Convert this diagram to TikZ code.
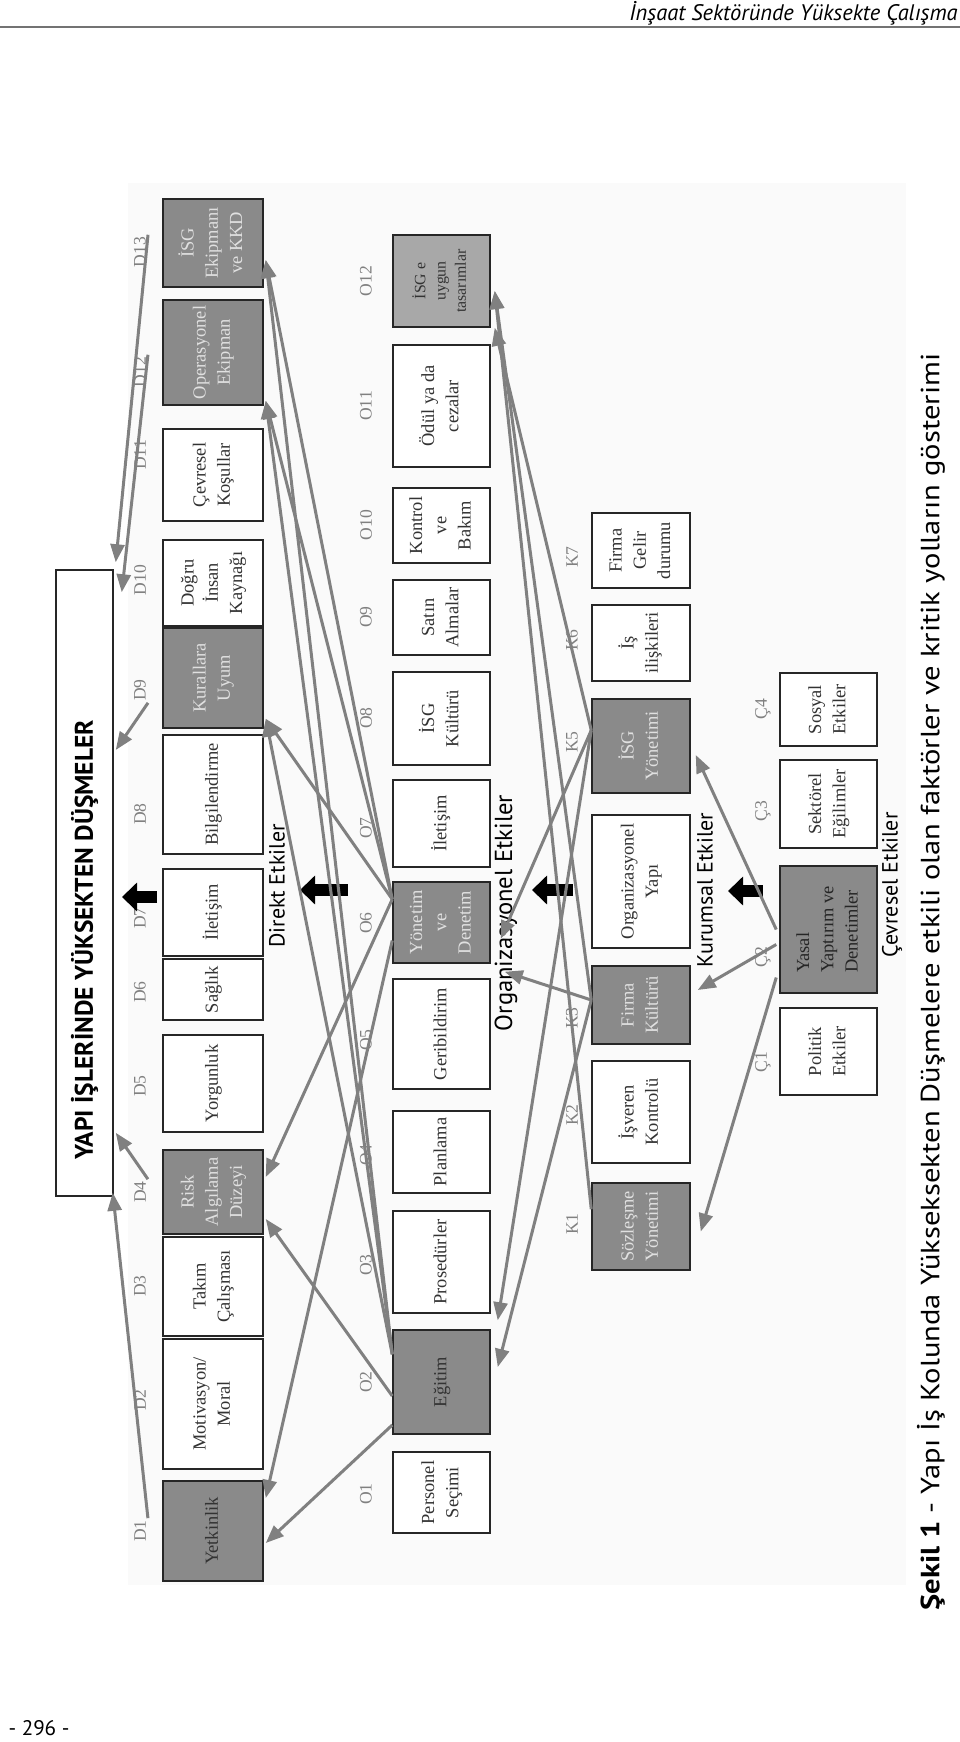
\documentclass[tikz,border=0pt]{standalone}
\usepackage{fontspec}
\setmainfont{Liberation Serif}
\newfontfamily\sansfont{PT Sans}
\usepackage{graphicx}
\usetikzlibrary{calc,arrows.meta}
\definecolor{boxgray}{RGB}{138,138,138}
\definecolor{palegray}{RGB}{168,168,168}
\definecolor{linegray}{RGB}{128,128,128}
\newcommand\rt[1]{\rotatebox{90}{\begin{tabular}{@{}c@{}}#1\end{tabular}}}
\newcommand\rl[1]{\rotatebox{90}{\begin{tabular}{@{}l@{}}#1\end{tabular}}}
\renewcommand\arraystretch{1.15}

\begin{document}
\begin{tikzpicture}[x=0.2mm,y=-0.2mm,
  box/.style={draw=black!85, line width=0.3mm, fill=white, inner sep=0pt, text=black!80, font=\fontsize{10.5}{12}\selectfont},
  gbox/.style={box, fill=boxgray, text=black!12},
  lab/.style={inner sep=1pt, text=black!50, font=\fontsize{10}{12}\selectfont},
  grp/.style={inner sep=1pt, font=\sansfont\fontsize{12.5}{14}\selectfont},
  garrow/.style={draw=linegray, line width=0.6mm, -{Triangle[length=3.6mm,width=2.8mm]}},
  bigarrow/.style={line width=2.4mm, -{Triangle[length=3mm,width=5.6mm]}}]
			%%%%% PAGE %%%%%
			\useasboundingbox (0,0) rectangle (960,1742);
			\node[anchor=east, inner sep=0pt, font=\sansfont\itshape\fontsize{12.8}{14}\selectfont] (head) at (958,13) {İnşaat Sektöründe Yüksekte Çalışma};
			\draw[black!55, line width=0.4mm] (0,27) -- (960,27);
			\fill[black!2] (128,183) rectangle (906,1585);
			
			%%%%% TOP %%%%%
			\node[box, minimum width=11.4mm, minimum height=125.2mm] (top) at (84.5,883) {};
			\node[inner sep=0pt, font=\sansfont\bfseries\fontsize{14.5}{16}\selectfont] (title) at (84.5,940) {\rotatebox{90}{YAPI İŞLERİNDE YÜKSEKTEN DÜŞMELER}};
			
			%%%%% DIREKT %%%%%
			\node[gbox, minimum width=20mm, minimum height=17.6mm] (d13) at (213,243) {\rt{İSG\\Ekipmanı\\ve KKD}};
			\node[gbox, minimum width=20mm, minimum height=21mm] (d12) at (213,352.5) {\rt{Operasyonel\\Ekipman}};
			\node[box, minimum width=20mm, minimum height=18.4mm] (d11) at (213,475) {\rt{Çevresel\\Koşullar}};
			\node[box, minimum width=20mm, minimum height=17.2mm] (d10) at (213,583) {\rt{Doğru\\İnsan\\Kaynağı}};
			\node[gbox, minimum width=20mm, minimum height=20mm] (d9) at (213,678) {\rt{Kurallara\\Uyum}};
			\node[box, minimum width=20mm, minimum height=23.8mm] (d8) at (213,794.5) {\rt{Bilgilendirme}};
			\node[box, minimum width=20mm, minimum height=17.4mm] (d7) at (213,912.5) {\rt{İletişim}};
			\node[box, minimum width=20mm, minimum height=12.2mm] (d6) at (213,989.5) {\rt{Sağlık}};
			\node[box, minimum width=20mm, minimum height=19.4mm] (d5) at (213,1083.5) {\rt{Yorgunluk}};
			\node[gbox, minimum width=20mm, minimum height=16.8mm] (d4) at (213,1192) {\rt{Risk\\Algılama\\Düzeyi}};
			\node[box, minimum width=20mm, minimum height=19.8mm] (d3) at (213,1286.5) {\rt{Takım\\Çalışması}};
			\node[box, minimum width=20mm, minimum height=26mm] (d2) at (213,1404) {\rt{Motivasyon/\\Moral}};
			\node[gbox, text=black!80, minimum width=20mm, minimum height=20mm] (d1) at (213,1531) {\rt{Yetkinlik}};
			
			\node[lab] (ld13) at (140,252) {\rotatebox{90}{D13}};
			\node[lab] (ld12) at (140,372) {\rotatebox{90}{D12}};
			\node[lab] (ld11) at (140,455) {\rotatebox{90}{D11}};
			\node[lab] (ld10) at (140,580) {\rotatebox{90}{D10}};
			\node[lab] (ld9) at (140,690) {\rotatebox{90}{D9}};
			\node[lab] (ld8) at (140,814) {\rotatebox{90}{D8}};
			\node[lab] (ld7) at (140,918) {\rotatebox{90}{D7}};
			\node[lab] (ld6) at (140,992) {\rotatebox{90}{D6}};
			\node[lab] (ld5) at (140,1086) {\rotatebox{90}{D5}};
			\node[lab] (ld4) at (140,1192) {\rotatebox{90}{D4}};
			\node[lab] (ld3) at (140,1286) {\rotatebox{90}{D3}};
			\node[lab] (ld2) at (140,1400) {\rotatebox{90}{D2}};
			\node[lab] (ld1) at (140,1531) {\rotatebox{90}{D1}};
			\node[grp] (gd) at (277,886) {\rotatebox{90}{Direkt Etkiler}};
			
			%%%%% ORGANIZASYONEL %%%%%
			\node[box, fill=palegray, minimum width=19.4mm, minimum height=18.4mm, font=\fontsize{9}{10}\selectfont] (o12) at (441.5,281) {\rt{İSG e\\uygun\\tasarımlar}};
			\node[box, minimum width=19.4mm, minimum height=24.4mm] (o11) at (441.5,406) {\rt{Ödül ya da\\cezalar}};
			\node[box, minimum width=19.4mm, minimum height=15mm] (o10) at (441.5,525.5) {\rt{Kontrol\\ve\\Bakım}};
			\node[box, minimum width=19.4mm, minimum height=15mm] (o9) at (441.5,617.5) {\rt{Satın\\Almalar}};
			\node[box, minimum width=19.4mm, minimum height=18.6mm] (o8) at (441.5,718.5) {\rt{İSG\\Kültürü}};
			\node[box, minimum width=19.4mm, minimum height=17.4mm] (o7) at (441.5,823.5) {\rt{İletişim}};
			\node[gbox, minimum width=19.4mm, minimum height=16.2mm] (o6) at (441.5,922.5) {\rt{Yönetim\\ve\\Denetim}};
			\node[box, minimum width=19.4mm, minimum height=22mm] (o5) at (441.5,1034) {\rt{Geribildirim}};
			\node[box, minimum width=19.4mm, minimum height=16.4mm] (o4) at (441.5,1152) {\rt{Planlama}};
			\node[box, minimum width=19.4mm, minimum height=20.4mm] (o3) at (441.5,1262) {\rt{Prosedürler}};
			\node[gbox, text=black!80, minimum width=19.4mm, minimum height=20.8mm] (o2) at (441.5,1382) {\rt{Eğitim}};
			\node[box, minimum width=19.4mm, minimum height=16.2mm] (o1) at (441.5,1492.5) {\rt{Personel\\Seçimi}};
			
			\node[lab] (lo12) at (366,281) {\rotatebox{90}{O12}};
			\node[lab] (lo11) at (366,406) {\rotatebox{90}{O11}};
			\node[lab] (lo10) at (366,525) {\rotatebox{90}{O10}};
			\node[lab] (lo9) at (366,617) {\rotatebox{90}{O9}};
			\node[lab] (lo8) at (366,718) {\rotatebox{90}{O8}};
			\node[lab] (lo7) at (366,828) {\rotatebox{90}{O7}};
			\node[lab] (lo6) at (366,923) {\rotatebox{90}{O6}};
			\node[lab] (lo5) at (366,1040) {\rotatebox{90}{O5}};
			\node[lab] (lo4) at (366,1155) {\rotatebox{90}{O4}};
			\node[lab] (lo3) at (366,1265) {\rotatebox{90}{O3}};
			\node[lab] (lo2) at (366,1382) {\rotatebox{90}{O2}};
			\node[lab] (lo1) at (366,1494) {\rotatebox{90}{O1}};
			\node[grp, font=\sansfont\fontsize{14}{16}\selectfont] (go) at (506,913) {\rotatebox{90}{Organizasyonel Etkiler}};
			
			%%%%% KURUMSAL %%%%%
			\node[box, minimum width=19.6mm, minimum height=15mm] (k7) at (641,550.5) {\rt{Firma\\Gelir\\durumu}};
			\node[box, minimum width=19.6mm, minimum height=15.2mm] (k6) at (641,643) {\rt{İş\\ilişkileri}};
			\node[gbox, minimum width=19.6mm, minimum height=18.8mm] (k5) at (641,746) {\rt{İSG\\Yönetimi}};
			\node[box, minimum width=19.6mm, minimum height=26.6mm] (k4) at (641,881.5) {\rt{Organizasyonel\\Yapı}};
			\node[gbox, minimum width=19.6mm, minimum height=15.6mm] (k3) at (641,1005) {\rt{Firma\\Kültürü}};
			\node[box, minimum width=19.6mm, minimum height=20.4mm] (k2) at (641,1112) {\rt{İşveren\\Kontrolü}};
			\node[gbox, minimum width=19.6mm, minimum height=17.4mm] (k1) at (641,1226.5) {\rt{Sözleşme\\Yönetimi}};
			
			\node[lab] (lk7) at (572,557) {\rotatebox{90}{K7}};
			\node[lab] (lk6) at (572,640) {\rotatebox{90}{K6}};
			\node[lab] (lk5) at (572,742) {\rotatebox{90}{K5}};
			\node[lab] (lk3) at (572,1018) {\rotatebox{90}{K3}};
			\node[lab] (lk2) at (572,1115) {\rotatebox{90}{K2}};
			\node[lab] (lk1) at (572,1224) {\rotatebox{90}{K1}};
			\node[grp] (gk) at (705,890) {\rotatebox{90}{Kurumsal Etkiler}};
			
			%%%%% CEVRESEL %%%%%
			\node[box, minimum width=19.4mm, minimum height=14.6mm] (c4) at (828.5,709.5) {\rt{Sosyal\\Etkiler}};
			\node[box, minimum width=19.4mm, minimum height=17.6mm] (c3) at (828.5,804) {\rt{Sektörel\\Eğilimler}};
			\node[gbox, text=black!85, minimum width=19.4mm, minimum height=25.4mm] (c2) at (828.5,929.5) {\rl{Yasal\\Yaptırım ve\\Denetimler}};
			\node[box, minimum width=19.4mm, minimum height=17.4mm] (c1) at (828.5,1051.5) {\rt{Politik\\Etkiler}};
			
			\node[lab] (lc4) at (763,709) {\rotatebox{90}{Ç4}};
			\node[lab] (lc3) at (763,811) {\rotatebox{90}{Ç3}};
			\node[lab] (lc2) at (763,957) {\rotatebox{90}{Ç2}};
			\node[lab] (lc1) at (763,1062) {\rotatebox{90}{Ç1}};
			\node[grp] (gc) at (892,885) {\rotatebox{90}{Çevresel Etkiler}};
			
			%%%%% BLOCK ARROWS %%%%%
			\draw[bigarrow] (157,897) -- (122,897);
			\draw[bigarrow] (348,890) -- (300,890);
			\draw[bigarrow] (573,890) -- (532,890);
			\draw[bigarrow] (763,891) -- (728,891);
			
			%%%%% PATHS D -> TOP %%%%%
			\draw[garrow] (ld1.north east) -- ($(top.south east)+(-1,-4)$);
			\draw[garrow] (ld4.north east) -- ($(top.south east)+(2,-64)$);
			\draw[garrow] (ld9.south east) -- ($(top.east)+(2,-133)$);
			\draw[garrow] (ld12.north east) -- ($(top.north east)+(8,23)$);
			\draw[garrow] (ld13.north east) -- ($(top.north east)+(2,-7)$);
			
			%%%%% PATHS O -> D %%%%%
			\draw[garrow] ($(o6.north west)+(0,18)$) -- ($(d13.east)+(2,17)$);
			\draw[garrow] ($(o6.north west)+(0,18)$) -- ($(d12.south east)+(2,-5)$);
			\draw[garrow] ($(o6.north west)+(0,18)$) -- ($(d9.south east)+(2,-10)$);
			\draw[garrow] ($(o6.north west)+(0,18)$) -- ($(d4.east)+(2,-15)$);
			\draw[garrow] ($(o6.west)+(0,18)$) -- ($(d1.east)+(2,-33)$);
			\draw[garrow] ($(o2.north west)+(0,25)$) -- ($(d13.east)+(2,17)$);
			\draw[garrow] ($(o2.north west)+(0,25)$) -- ($(d12.south east)+(2,-5)$);
			\draw[garrow] ($(o2.north west)+(0,25)$) -- ($(d9.south east)+(2,-10)$);
			\draw[garrow] ($(o2.west)+(0,14)$) -- ($(d4.east)+(2,27)$);
			\draw[garrow] ($(o2.west)+(0,43)$) -- ($(d1.east)+(2,12)$);
			
			%%%%% PATHS K -> O %%%%%
			\draw[garrow] ($(k5.north west)+(0,32)$) -- ($(o12.south east)+(4,0)$);
			\draw[garrow] ($(k3.west)+(0,-5)$) -- ($(o12.east)+(4,10)$);
			\draw[garrow] ($(k1.north west)+(0,27)$) -- ($(o12.east)+(4,10)$);
			\draw[garrow] ($(k5.north west)+(0,32)$) -- ($(o6.south east)+(10,-25)$);
			\draw[garrow] ($(k3.west)+(0,-5)$) -- ($(o6.south east)+(14,8)$);
			\draw[garrow] ($(k5.north west)+(0,32)$) -- ($(o2.north east)+(7,-9)$);
			\draw[garrow] ($(k3.west)+(0,-5)$) -- ($(o2.east)+(7,-15)$);
			
			%%%%% PATHS C -> K %%%%%
			\draw[garrow] ($(c2.west)+(-3,0)$) -- ($(k5.east)+(5,9)$);
			\draw[garrow] ($(c2.west)+(-3,15)$) -- ($(k3.east)+(7,-15)$);
			\draw[garrow] ($(c2.west)+(-3,48)$) -- ($(k1.east)+(10,5)$);
			
			%%%%% CAPTION %%%%%
			\node[anchor=south, inner sep=0pt, font=\sansfont\fontsize{15}{17}\selectfont] (cap) at (931,1611) {\rotatebox{90}{\scalebox{1.16}[1]{\textbf{Şekil 1} - Yapı İş Kolunda Yükseksekten Düşmelere etkili olan faktörler ve kritik yolların gösterimi}}};
			\node[inner sep=0pt, font=\sansfont\fontsize{12}{14}\selectfont] (page) at (39,1728) {- 296 -};
\end{tikzpicture}
\end{document}
